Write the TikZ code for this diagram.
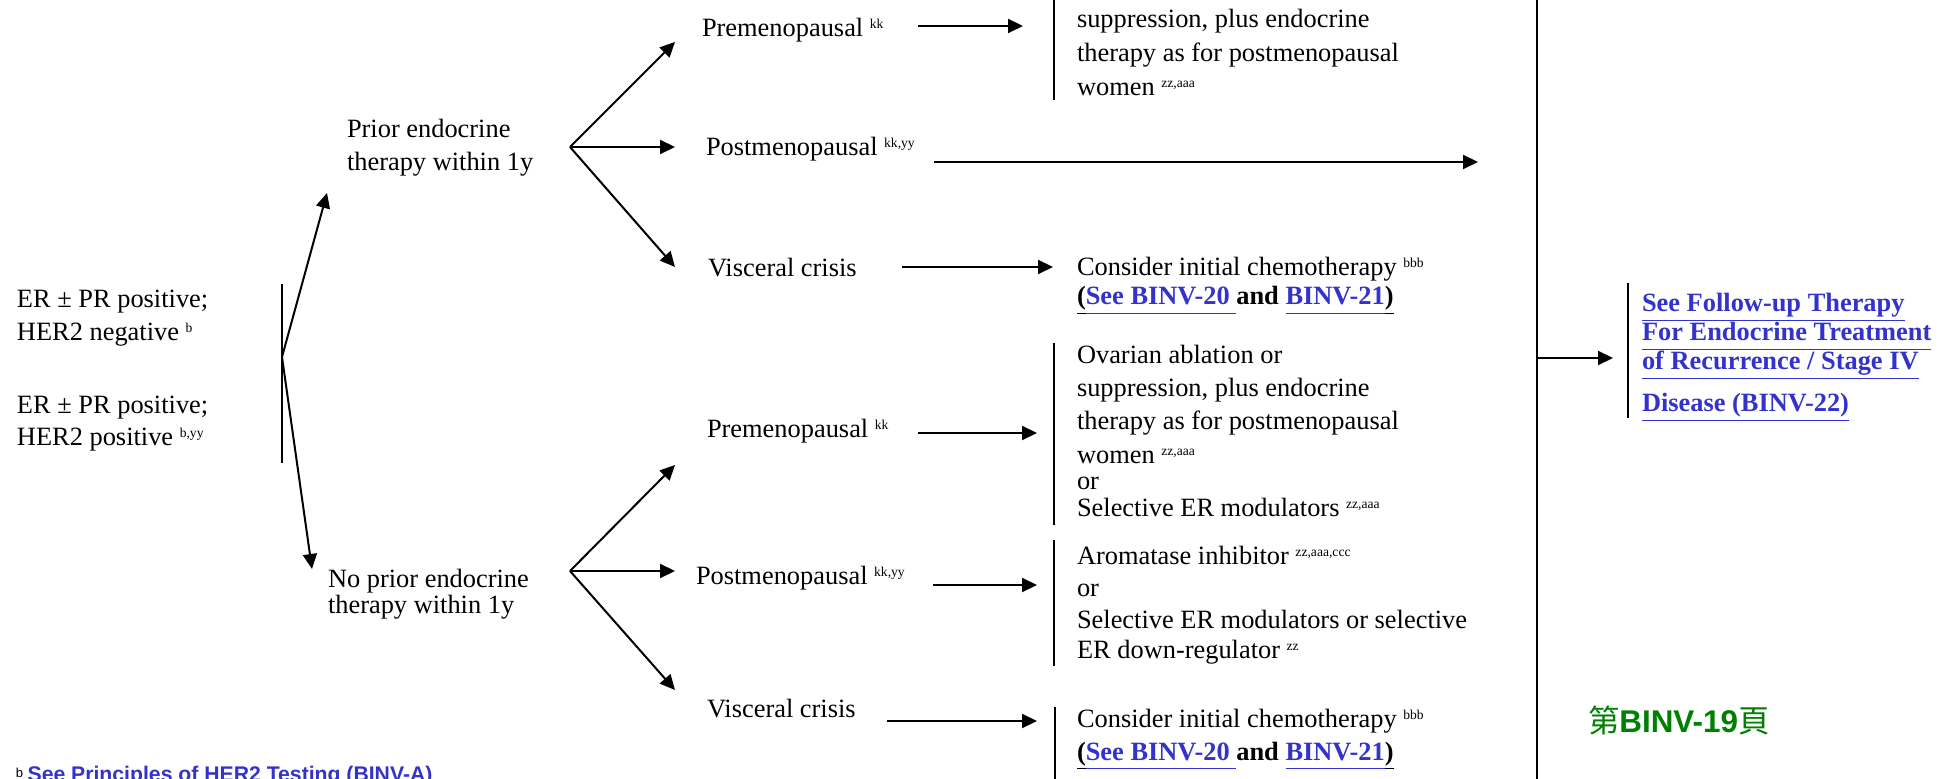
\documentclass[tikz,border=0pt]{standalone}
\usepackage{fontspec}
\setmainfont{Liberation Serif}
\newfontfamily\arialf{Liberation Sans}
\newfontfamily\cjkf{Noto Sans CJK TC}
\usetikzlibrary{arrows.meta}
\definecolor{linkblue}{RGB}{51,51,204}
\definecolor{pagegreen}{RGB}{0,128,0}
\newcommand\sups[1]{\raisebox{4pt}{\fontsize{6.8}{7}\selectfont #1}}
\newcommand\lnk[1]{{\color{linkblue}\underline{\vphantom{(}#1}}}
\newcommand\blk[1]{\underline{\vphantom{(}#1}}
\begin{document}
\begin{tikzpicture}[x=0.5pt,y=-0.5pt,
  txt/.style={anchor=base west, inner sep=0pt, outer sep=0pt, align=left,
    font=\fontsize{13.2}{16.5}\selectfont},
  arr/.style={-{Triangle[length=7.5pt,width=7pt]}, line width=1pt},
  bar/.style={line width=1pt}]
\useasboundingbox (0,0) rectangle (1953,779);
% (multi-line nodes are placed by the baseline of their last line)

% ---- left column
\node[txt] (erneg) at (17,341) {ER ± PR positive;\\HER2 negative \sups{b}};
\node[txt] (erpos) at (17,446) {ER ± PR positive;\\[-0.5pt]HER2 positive \sups{b,yy}};
\coordinate (erbarT) at (282,284);
\coordinate (erbarB) at (282,463);
\coordinate (b0) at (282,357);
\draw[bar] (erbarT) -- (erbarB);

\node[txt] (prior) at (347,171) {Prior endocrine\\therapy within 1y};
\node[txt] (noprior) at (328,614) {No prior endocrine\\[-3.5pt]therapy within 1y};
\coordinate (toprior) at (327,193);
\coordinate (tonoprior) at (312,569);
\draw[arr] (b0) -- (toprior);
\draw[arr] (b0) -- (tonoprior);

% ---- upper branch
\coordinate (bp1) at (570,147);
\coordinate (bp1a) at (675,42);
\coordinate (bp1b) at (675,147);
\coordinate (bp1c) at (675,267);
\draw[arr] (bp1) -- (bp1a);
\draw[arr] (bp1) -- (bp1b);
\draw[arr] (bp1) -- (bp1c);

\node[txt] (pre1) at (702,37) {Premenopausal \sups{kk}};
\coordinate (pre1s) at (918,26);
\coordinate (pre1e) at (1023,26);
\draw[arr] (pre1s) -- (pre1e);
\coordinate (bar1T) at (1054,0);
\coordinate (bar1B) at (1054,100);
\draw[bar] (bar1T) -- (bar1B);
\node[txt, font=\fontsize{13.2}{17}\selectfont] (ovar1) at (1077,96)
  {suppression, plus endocrine\\therapy as for postmenopausal\\women \sups{zz,aaa}};

\node[txt] (post1) at (706,156) {Postmenopausal \sups{kk,yy}};
\coordinate (post1s) at (934,162);
\coordinate (post1e) at (1478,162);
\draw[arr] (post1s) -- (post1e);

\node[txt] (visc1) at (708,277) {Visceral crisis};
\coordinate (visc1s) at (902,267);
\coordinate (visc1e) at (1053,267);
\draw[arr] (visc1s) -- (visc1e);
\node[txt] (cons1) at (1077,305) {Consider initial chemotherapy \sups{bbb}\\[-2pt]
  \textbf{\blk{(}\lnk{See BINV-20 }and \lnk{BINV-21}\blk{)}}};

% ---- lower branch
\coordinate (bp2) at (570,571);
\coordinate (bp2a) at (675,465);
\coordinate (bp2b) at (675,571);
\coordinate (bp2c) at (675,690);
\draw[arr] (bp2) -- (bp2a);
\draw[arr] (bp2) -- (bp2b);
\draw[arr] (bp2) -- (bp2c);

\node[txt] (pre2) at (707,438) {Premenopausal \sups{kk}};
\coordinate (pre2s) at (918,433);
\coordinate (pre2e) at (1037,433);
\draw[arr] (pre2s) -- (pre2e);
\coordinate (bar2T) at (1054,343);
\coordinate (bar2B) at (1054,525);
\draw[bar] (bar2T) -- (bar2B);
\node[txt] (ovar2) at (1077,517) {Ovarian ablation or\\suppression, plus endocrine\\therapy as for postmenopausal\\[0.5pt]women \sups{zz,aaa}\\[-3.5pt]or\\[-3pt]Selective ER modulators \sups{zz,aaa}};

\node[txt] (post2) at (696,585) {Postmenopausal \sups{kk,yy}};
\coordinate (post2s) at (933,585);
\coordinate (post2e) at (1037,585);
\draw[arr] (post2s) -- (post2e);
\coordinate (bar3T) at (1054,540);
\coordinate (bar3B) at (1054,666);
\draw[bar] (bar3T) -- (bar3B);
\node[txt] (arom) at (1077,659)
  {Aromatase inhibitor \sups{zz,aaa,ccc}\\[-0.5pt]or\\[-0.5pt]Selective ER modulators or selective\\[-1.5pt]ER down-regulator \sups{zz}};

\node[txt] (visc2) at (707,718) {Visceral crisis};
\coordinate (visc2s) at (887,721);
\coordinate (visc2e) at (1037,721);
\draw[arr] (visc2s) -- (visc2e);
\coordinate (bar4T) at (1055,707);
\coordinate (bar4B) at (1055,779);
\draw[bar] (bar4T) -- (bar4B);
\node[txt] (cons2) at (1077,760) {Consider initial chemotherapy \sups{bbb}\\
  \textbf{\blk{(}\lnk{See BINV-20 }and \lnk{BINV-21}\blk{)}}};

% ---- right column
\coordinate (bigT) at (1537,0);
\coordinate (bigB) at (1537,779);
\coordinate (bigM) at (1537,358);
\coordinate (folA) at (1613,358);
\draw[bar] (bigT) -- (bigB);
\draw[arr] (bigM) -- (folA);
\coordinate (bar5T) at (1628,283);
\coordinate (bar5B) at (1628,418);
\draw[bar] (bar5T) -- (bar5B);
\node[txt, font=\fontsize{13.2}{14.5}\selectfont\bfseries] (follow) at (1642,412)
  {\lnk{See Follow-up Therapy}\\\lnk{For Endocrine Treatment}\\\lnk{of Recurrence / Stage IV}\\[6.5pt]\lnk{Disease (BINV-22)}};

\node[txt, font=\fontsize{15.7}{18}\selectfont, text=pagegreen] (page) at (1588,732)
  {{\cjkf 第}{\arialf\bfseries BINV-19}{\cjkf 頁}};

\node[txt] (foot) at (16,781)
  {{\arialf\fontsize{6.5}{7}\selectfont\raisebox{2pt}{b}}\,{\arialf\bfseries\fontsize{10.6}{12}\selectfont\color{linkblue}See Principles of HER2 Testing (BINV-A)}};
\end{tikzpicture}
\end{document}
